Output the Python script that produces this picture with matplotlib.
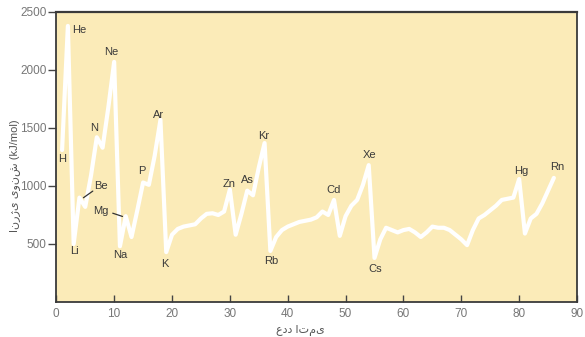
import matplotlib
matplotlib.use("Agg")
import matplotlib.pyplot as plt

atomic_numbers = list(range(1, 87))
ionization_energy = [
    1310, 2380, 500, 900, 820, 1090, 1420, 1330, 1680, 2070,
    480, 740, 560, 790, 1030, 1010, 1260, 1570, 430, 580,
    630, 650, 660, 670, 720, 760, 765, 750, 780, 970,
    580, 760, 960, 920, 1160, 1370, 440, 560, 620, 650,
    670, 690, 700, 710, 730, 780, 750, 880, 570, 740,
    830, 880, 1010, 1180, 380, 540, 640, 620, 600, 620,
    630, 600, 560, 600, 650, 640, 640, 620, 580, 540,
    490, 620, 720, 750, 790, 830, 880, 890, 900, 1060,
    590, 720, 760, 850, 960, 1070,
]

element_labels = ["He", "Ne", "N", "H", "Be", "Mg", "Li", "Na", "P", "Ar",
                  "K", "Zn", "As", "Kr", "Rb", "Cd", "Xe", "Cs", "Hg", "Rn"]
label_x = [3.9, 9.5, 6.5, 1.0, 7.8, 7.7, 3.1, 11.0, 14.7, 17.6,
           18.8, 29.9, 33.0, 35.8, 37.2, 48.0, 54.2, 55.2, 80.4, 86.6]
label_y = [2345, 2156, 1503, 1229, 997, 782, 438, 404, 1125, 1615,
           326, 1014, 1048, 1435, 352, 962, 1263, 283, 1125, 1160]

x_ticks = [0, 10, 20, 30, 40, 50, 60, 70, 80, 90]
y_ticks = [500, 1000, 1500, 2000, 2500]

x_label = "عدد اتمی"
y_label = "انرژی یونش (kJ/mol)"

plt.rcParams['font.family'] = ['Liberation Sans', 'DejaVu Sans']

fig = plt.figure(figsize=(5.85, 3.37), dpi=100)
ax = fig.add_axes([56.3 / 585, 1 - 302 / 337, (577 - 56.3) / 585, (302 - 12) / 337])
ax.set_facecolor("#fbebb8")

ax.plot(atomic_numbers, ionization_energy, color="white", lw=3.0,
        solid_joinstyle="round", solid_capstyle="round", zorder=3)

for t, x, y in zip(element_labels, label_x, label_y):
    ax.text(x, y, t, ha="center", va="center", fontsize=8, color="#3a3a3a", zorder=4)

# leader lines for Be and Mg
ax.annotate("", xy=(4.3, 885), xytext=(6.7, 970),
            arrowprops=dict(arrowstyle="-", color="#333333", lw=0.9))
ax.annotate("", xy=(11.9, 730), xytext=(9.3, 773),
            arrowprops=dict(arrowstyle="-", color="#333333", lw=0.9))

ax.set_xlim(0, 90)
ax.set_ylim(0, 2500)
ax.set_xticks(x_ticks)
ax.set_yticks(y_ticks)
ax.tick_params(axis="x", direction="in", length=5, width=1, colors="#444444",
               labelcolor="#777777", labelsize=8.5, pad=4)
ax.tick_params(axis="y", direction="out", length=6, width=1, colors="#444444",
               labelcolor="#777777", labelsize=8.5, pad=1)
for s in ax.spines.values():
    s.set_color("#3a3a3a")
    s.set_linewidth(1.3)
ax.spines["top"].set_linewidth(1.6)

fig.text(300 / 585, 1 - 330 / 337, x_label, ha="center", va="center",
         fontsize=8, color="#555555")
fig.text(15 / 585, 1 - 176 / 337, y_label, ha="center", va="center",
         rotation=90, fontsize=8, color="#555555")

fig.savefig("out.png", dpi=100)
